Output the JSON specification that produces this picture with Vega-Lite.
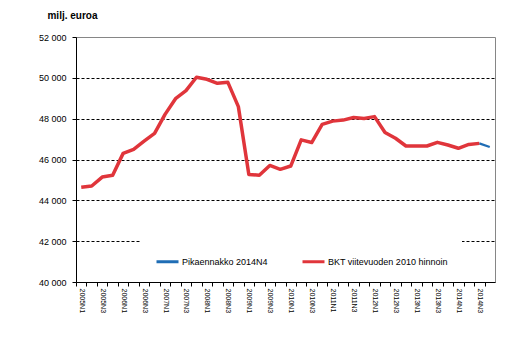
{
  "$schema": "https://vega.github.io/schema/vega-lite/v6.json",
  "width": 419,
  "height": 245,
  "autosize": {"type": "none"},
  "padding": {"left": 76, "top": 37, "right": 18, "bottom": 63},
  "background": "white",
  "title": {"text": "milj. euroa", "anchor": "start", "dx": 9, "offset": 12, "font": "Liberation Sans", "fontSize": 10, "fontWeight": "bold", "color": "black"},
  "config": {"view": {"stroke": "#868686", "strokeWidth": 1}, "font": "Liberation Sans"},
  "data": {"values": [
    {"q": "2005N1", "s": "BKT viitevuoden 2010 hinnoin", "v": 44640},
    {"q": "2005N2", "s": "BKT viitevuoden 2010 hinnoin", "v": 44700},
    {"q": "2005N3", "s": "BKT viitevuoden 2010 hinnoin", "v": 45140},
    {"q": "2005N4", "s": "BKT viitevuoden 2010 hinnoin", "v": 45230},
    {"q": "2006N1", "s": "BKT viitevuoden 2010 hinnoin", "v": 46300},
    {"q": "2006N2", "s": "BKT viitevuoden 2010 hinnoin", "v": 46500},
    {"q": "2006N3", "s": "BKT viitevuoden 2010 hinnoin", "v": 46900},
    {"q": "2006N4", "s": "BKT viitevuoden 2010 hinnoin", "v": 47280},
    {"q": "2007N1", "s": "BKT viitevuoden 2010 hinnoin", "v": 48210},
    {"q": "2007N2", "s": "BKT viitevuoden 2010 hinnoin", "v": 48980},
    {"q": "2007N3", "s": "BKT viitevuoden 2010 hinnoin", "v": 49370},
    {"q": "2007N4", "s": "BKT viitevuoden 2010 hinnoin", "v": 50030},
    {"q": "2008N1", "s": "BKT viitevuoden 2010 hinnoin", "v": 49930},
    {"q": "2008N2", "s": "BKT viitevuoden 2010 hinnoin", "v": 49730},
    {"q": "2008N3", "s": "BKT viitevuoden 2010 hinnoin", "v": 49780},
    {"q": "2008N4", "s": "BKT viitevuoden 2010 hinnoin", "v": 48590},
    {"q": "2009N1", "s": "BKT viitevuoden 2010 hinnoin", "v": 45270},
    {"q": "2009N2", "s": "BKT viitevuoden 2010 hinnoin", "v": 45230},
    {"q": "2009N3", "s": "BKT viitevuoden 2010 hinnoin", "v": 45710},
    {"q": "2009N4", "s": "BKT viitevuoden 2010 hinnoin", "v": 45520},
    {"q": "2010N1", "s": "BKT viitevuoden 2010 hinnoin", "v": 45680},
    {"q": "2010N2", "s": "BKT viitevuoden 2010 hinnoin", "v": 46960},
    {"q": "2010N3", "s": "BKT viitevuoden 2010 hinnoin", "v": 46830},
    {"q": "2010N4", "s": "BKT viitevuoden 2010 hinnoin", "v": 47720},
    {"q": "2011N1", "s": "BKT viitevuoden 2010 hinnoin", "v": 47880},
    {"q": "2011N2", "s": "BKT viitevuoden 2010 hinnoin", "v": 47930},
    {"q": "2011N3", "s": "BKT viitevuoden 2010 hinnoin", "v": 48060},
    {"q": "2011N4", "s": "BKT viitevuoden 2010 hinnoin", "v": 48010},
    {"q": "2012N1", "s": "BKT viitevuoden 2010 hinnoin", "v": 48100},
    {"q": "2012N2", "s": "BKT viitevuoden 2010 hinnoin", "v": 47320},
    {"q": "2012N3", "s": "BKT viitevuoden 2010 hinnoin", "v": 47040},
    {"q": "2012N4", "s": "BKT viitevuoden 2010 hinnoin", "v": 46660},
    {"q": "2013N1", "s": "BKT viitevuoden 2010 hinnoin", "v": 46660},
    {"q": "2013N2", "s": "BKT viitevuoden 2010 hinnoin", "v": 46660},
    {"q": "2013N3", "s": "BKT viitevuoden 2010 hinnoin", "v": 46840},
    {"q": "2013N4", "s": "BKT viitevuoden 2010 hinnoin", "v": 46710},
    {"q": "2014N1", "s": "BKT viitevuoden 2010 hinnoin", "v": 46550},
    {"q": "2014N2", "s": "BKT viitevuoden 2010 hinnoin", "v": 46740},
    {"q": "2014N3", "s": "BKT viitevuoden 2010 hinnoin", "v": 46790},
    {"q": "2014N3", "s": "Pikaennakko 2014N4", "v": 46790},
    {"q": "2014N4", "s": "Pikaennakko 2014N4", "v": 46610}
  ]},
  "encoding": {
    "x": {
      "field": "q", "type": "ordinal", "sort": "ascending",
      "scale": {"type": "point", "padding": 0.5},
      "axis": {
        "title": null, "labelAngle": 90, "labelAlign": "left", "labelBaseline": "middle",
        "labelExpr": "indexof(datum.value, 'N1') > 0 || indexof(datum.value, 'N3') > 0 ? datum.value : ''",
        "tickOffset": -5.2375, "labelOffset": 5.2375,
        "tickSize": 4, "tickColor": "black", "domainColor": "black",
        "labelFont": "Liberation Sans", "labelFontSize": 7, "labelPadding": 2, "labelColor": "black",
        "labelOverlap": false, "grid": false
      }
    },
    "y": {
      "field": "v", "type": "quantitative",
      "scale": {"domain": [40000, 52000], "nice": false, "zero": false},
      "axis": {
        "title": null, "values": [40000, 42000, 44000, 46000, 48000, 50000, 52000],
        "labelExpr": "format(datum.value / 1000, 'd') + ' 000'",
        "tickSize": 4, "tickColor": "black", "domainColor": "black",
        "labelFont": "Liberation Sans", "labelFontSize": 9, "labelPadding": 6, "labelColor": "black",
        "gridColor": "black", "gridDash": [3, 2], "gridWidth": 1,
        "gridOpacity": {"condition": {"test": "datum.value == 40000 || datum.value == 52000", "value": 0}, "value": 1}
      }
    },
    "color": {
      "field": "s", "type": "nominal",
      "scale": {"domain": ["Pikaennakko 2014N4", "BKT viitevuoden 2010 hinnoin"], "range": ["#1f6db5", "#e0353b"]},
      "legend": {
        "title": null, "orient": "none", "legendX": 65, "legendY": 198, "direction": "horizontal",
        "fillColor": "white", "padding": 14, "symbolType": "stroke", "symbolSize": 484, "symbolStrokeWidth": 3,
        "labelFont": "Liberation Sans", "labelFontSize": 9, "labelColor": "black", "labelOffset": 2,
        "columnPadding": 28
      }
    }
  },
  "layer": [
    {"transform": [{"filter": "datum.s == 'Pikaennakko 2014N4'"}], "mark": {"type": "line", "strokeWidth": 2.25}},
    {"transform": [{"filter": "datum.s == 'BKT viitevuoden 2010 hinnoin'"}], "mark": {"type": "line", "strokeWidth": 3.5, "strokeJoin": "round"}}
  ]
}
